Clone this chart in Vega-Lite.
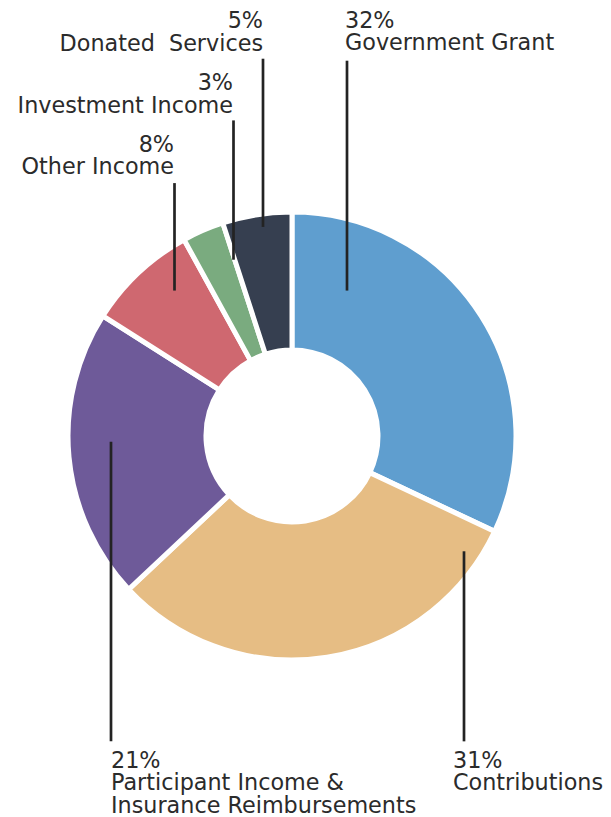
{
  "$schema": "https://vega.github.io/schema/vega-lite/v6.json",
  "width": 611,
  "height": 817,
  "padding": 0,
  "autosize": {"type": "fit", "contains": "padding"},
  "background": "white",
  "config": {"view": {"stroke": null}},
  "datasets": {
    "slices": [
      {"category": "Government Grant", "pct": 32, "order": 1},
      {"category": "Contributions", "pct": 31, "order": 2},
      {"category": "Participant Income & Insurance Reimbursements", "pct": 21, "order": 3},
      {"category": "Other Income", "pct": 8, "order": 4},
      {"category": "Investment Income", "pct": 3, "order": 5},
      {"category": "Donated Services", "pct": 5, "order": 6}
    ],
    "notes": [
      {"category": "Government Grant", "label": "32%\nGovernment Grant", "lx": 347, "ly1": 61, "ly2": 292, "tx": 345, "ty": 10, "side": "left"},
      {"category": "Donated Services", "label": "5%\nDonated\u00a0 Services", "lx": 263, "ly1": 59, "ly2": 228, "tx": 263, "ty": 10.5, "side": "right"},
      {"category": "Investment Income", "label": "3%\nInvestment Income", "lx": 233.5, "ly1": 121, "ly2": 261, "tx": 233, "ty": 72.5, "side": "right"},
      {"category": "Other Income", "label": "8%\nOther Income", "lx": 174.5, "ly1": 184, "ly2": 292, "tx": 174, "ty": 134.5, "side": "right"},
      {"category": "Participant Income & Insurance Reimbursements", "label": "21%\nParticipant Income &\nInsurance Reimbursements", "lx": 111, "ly1": 444, "ly2": 745, "tx": 111, "ty": 753.5, "side": "left"},
      {"category": "Contributions", "label": "31%\nContributions", "lx": 464, "ly1": 554, "ly2": 745, "tx": 453, "ty": 753.5, "side": "left"}
    ]
  },
  "layer": [
    {
      "data": {"name": "slices"},
      "mark": {"type": "arc", "x": 292, "y": 436, "radius": 224, "radius2": 86, "stroke": "white", "strokeWidth": 5},
      "encoding": {
        "theta": {"field": "pct", "type": "quantitative", "stack": true},
        "order": {"field": "order", "type": "quantitative"},
        "color": {
          "field": "category",
          "type": "nominal",
          "legend": null,
          "scale": {
            "domain": ["Government Grant", "Contributions", "Participant Income & Insurance Reimbursements", "Other Income", "Investment Income", "Donated Services"],
            "range": ["#5f9ecf", "#e6bd84", "#6e5a99", "#cf6870", "#7aab7f", "#363f50"]
          }
        }
      }
    },
    {
      "data": {"name": "notes"},
      "mark": {"type": "rule", "color": "#232323", "strokeWidth": 2.7},
      "encoding": {
        "x": {"field": "lx", "type": "quantitative", "scale": {"domain": [0, 611], "nice": false, "zero": false}, "axis": null},
        "y": {"field": "ly1", "type": "quantitative", "scale": {"domain": [0, 817], "nice": false, "zero": false, "reverse": true}, "axis": null},
        "y2": {"field": "ly2"}
      }
    },
    {
      "data": {"name": "notes"},
      "transform": [{"filter": "datum.side === 'right'"}],
      "mark": {"type": "text", "baseline": "top", "align": "right", "lineBreak": "\n", "lineHeight": 22.5, "font": "DejaVu Sans", "fontSize": 22.3, "color": "#2b2b2b"},
      "encoding": {
        "x": {"field": "tx", "type": "quantitative", "scale": {"domain": [0, 611], "nice": false, "zero": false}, "axis": null},
        "y": {"field": "ty", "type": "quantitative", "scale": {"domain": [0, 817], "nice": false, "zero": false, "reverse": true}, "axis": null},
        "text": {"field": "label"}
      }
    },
    {
      "data": {"name": "notes"},
      "transform": [{"filter": "datum.side === 'left'"}],
      "mark": {"type": "text", "baseline": "top", "align": "left", "lineBreak": "\n", "lineHeight": 22.5, "font": "DejaVu Sans", "fontSize": 22.3, "color": "#2b2b2b"},
      "encoding": {
        "x": {"field": "tx", "type": "quantitative", "scale": {"domain": [0, 611], "nice": false, "zero": false}, "axis": null},
        "y": {"field": "ty", "type": "quantitative", "scale": {"domain": [0, 817], "nice": false, "zero": false, "reverse": true}, "axis": null},
        "text": {"field": "label"}
      }
    }
  ]
}
